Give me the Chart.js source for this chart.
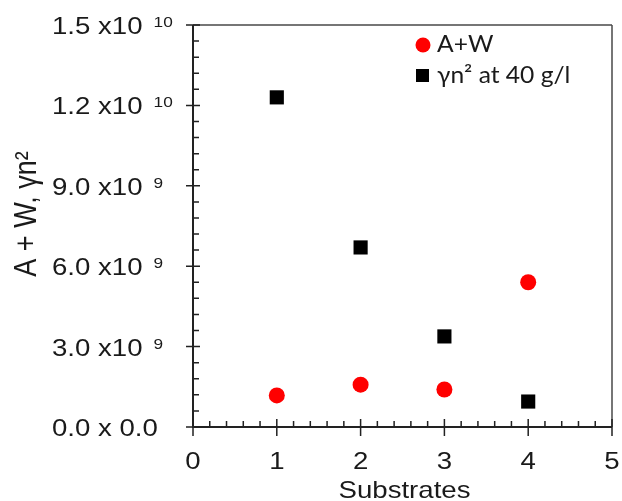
<!DOCTYPE html>
<html>
<head>
<meta charset="utf-8">
<script src="https://cdn.jsdelivr.net/npm/chart.js@4"></script>
<style>
  body { margin: 0; background: #fff; }
  #chart { display: block; }
</style>
</head>
<body>
<canvas id="chart" width="622" height="501"></canvas>
<script>
// Values
const substrates = [1, 2, 3, 4];
const awValues   = [1.18e9, 1.58e9, 1.40e9, 5.40e9];
const yn2Values  = [1.23e10, 6.70e9, 3.38e9, 0.95e9];

// tick labels (mantissa part, superscript exponent)
const xTicks      = [0, 1, 2, 3, 4, 5];
const yTicks      = [0, 3e9, 6e9, 9e9, 1.2e10, 1.5e10];
const yTickText   = ['0.0 x 0.0', '3.0 x10', '6.0 x10', '9.0 x10', '1.2 x10', '1.5 x10'];
const yTickExp    = ['', '9', '9', '9', '10', '10'];

const xTitle   = 'Substrates';
const yTitle   = 'A + W, \u03B3n\u00B2';
const awLabel  = 'A+W';
const ynLabel  = '\u03B3n\u00B2 at 40 g/l';

const FONT = '"Liberation Sans", Arial, sans-serif';
const STRETCH = 1.15; // the reference text is a bit wide

// draw text stretched horizontally
function wideText(ctx, text, x, y, align) {
  ctx.save();
  ctx.translate(x, y);
  ctx.scale(STRETCH, 1);
  ctx.textAlign = align || 'left';
  ctx.fillText(text, 0, 0);
  ctx.restore();
}

// Frame, crossing ticks, tick labels, titles and legend
const decorations = {
  id: 'decorations',
  afterDatasetsDraw(chart) {
    const { ctx, chartArea: a, scales: { x, y } } = chart;
    ctx.save();

    // frame
    ctx.strokeStyle = '#4a4a4a';
    ctx.lineWidth = 1.5;
    ctx.beginPath();
    ctx.moveTo(a.left, a.top); ctx.lineTo(a.right, a.top);
    ctx.moveTo(a.right, a.top); ctx.lineTo(a.right, a.bottom);
    ctx.stroke();
    ctx.strokeStyle = '#222';
    ctx.lineWidth = 2;
    ctx.beginPath();
    ctx.moveTo(a.left, a.top); ctx.lineTo(a.left, a.bottom);
    ctx.lineTo(a.right, a.bottom);
    ctx.stroke();

    // y ticks: majors cross the axis, minors inward
    ctx.lineWidth = 1.5;
    ctx.beginPath();
    for (let i = 0; i < yTicks.length; i++) {
      const py = y.getPixelForValue(yTicks[i]);
      ctx.moveTo(a.left - 7, py); ctx.lineTo(a.left + 7, py);
      if (i < yTicks.length - 1) {
        for (let k = 1; k < 5; k++) {
          const my = y.getPixelForValue(yTicks[i] + (yTicks[i + 1] - yTicks[i]) * k / 5);
          ctx.moveTo(a.left, my); ctx.lineTo(a.left + 6, my);
        }
      }
    }
    // x ticks
    for (let i = 0; i < xTicks.length; i++) {
      const px = x.getPixelForValue(xTicks[i]);
      ctx.moveTo(px, a.bottom - 8); ctx.lineTo(px, a.bottom + 9);
      if (i < xTicks.length - 1) {
        for (let k = 1; k < 5; k++) {
          const mx = x.getPixelForValue(xTicks[i] + k / 5);
          ctx.moveTo(mx, a.bottom); ctx.lineTo(mx, a.bottom - 6);
        }
      }
    }
    ctx.stroke();

    // y tick labels with superscripts
    ctx.fillStyle = '#1a1a1a';
    ctx.textBaseline = 'alphabetic';
    yTicks.forEach((v, i) => {
      const py = y.getPixelForValue(v);
      ctx.font = '24px ' + FONT;
      const w = ctx.measureText(yTickText[i]).width * STRETCH;
      wideText(ctx, yTickText[i], 52, py + 9);
      if (yTickExp[i]) {
        ctx.font = '15px ' + FONT;
        wideText(ctx, yTickExp[i], 52 + w + 11, py + 2);
      }
    });

    // x tick labels
    ctx.font = '24px ' + FONT;
    xTicks.forEach(v => {
      wideText(ctx, String(v), x.getPixelForValue(v), 469, 'center');
    });

    // axis titles
    wideText(ctx, xTitle, (a.left + a.right) / 2 + 2, 498, 'center');
    ctx.save();
    ctx.translate(36, 214);
    ctx.scale(STRETCH, 1);
    ctx.rotate(-Math.PI / 2);
    ctx.font = '27px ' + FONT;
    ctx.textAlign = 'center';
    ctx.fillText(yTitle, 0, 0);
    ctx.restore();

    // legend
    ctx.fillStyle = '#ff0000';
    ctx.beginPath();
    ctx.arc(423, 45, 7.5, 0, Math.PI * 2);
    ctx.fill();
    ctx.fillStyle = '#000';
    ctx.fillRect(416, 69, 13, 13);
    ctx.fillStyle = '#1a1a1a';
    ctx.font = '23px Lato, "Open Sans", sans-serif';
    ctx.save();
    ctx.translate(437, 52); ctx.scale(1.07, 1); ctx.fillText(awLabel, 0, 0);
    ctx.restore();
    ctx.save();
    ctx.translate(437, 83); ctx.scale(1.07, 1); ctx.fillText(ynLabel, 0, 0);
    ctx.restore();

    ctx.restore();
  }
};

new Chart(document.getElementById('chart'), {
  type: 'scatter',
  data: {
    datasets: [
      {
        label: awLabel,
        data: substrates.map((s, i) => ({ x: s, y: awValues[i] })),
        pointStyle: 'circle',
        pointRadius: 8,
        pointBackgroundColor: '#ff0000',
        pointBorderWidth: 0,
      },
      {
        label: ynLabel,
        data: substrates.map((s, i) => ({ x: s, y: yn2Values[i] })),
        pointStyle: 'rect',
        pointRadius: 10,
        pointBackgroundColor: '#000000',
        pointBorderWidth: 0,
      },
    ],
  },
  options: {
    responsive: false,
    animation: false,
    layout: { padding: { left: 193, right: 4, top: 25, bottom: 74 } },
    plugins: {
      legend: { display: false },
      tooltip: { enabled: false },
    },
    scales: {
      x: {
        type: 'linear', min: 0, max: 5,
        ticks: { display: false },
        grid: { display: false },
        border: { display: false },
        afterFit: s => { s.height = 0; s.paddingLeft = 0; s.paddingRight = 0; },
      },
      y: {
        type: 'linear', min: 0, max: 1.5e10,
        ticks: { display: false },
        grid: { display: false },
        border: { display: false },
        afterFit: s => { s.width = 0; s.paddingTop = 0; s.paddingBottom = 0; },
      },
    },
  },
  plugins: [decorations],
});
</script>
</body>
</html>
